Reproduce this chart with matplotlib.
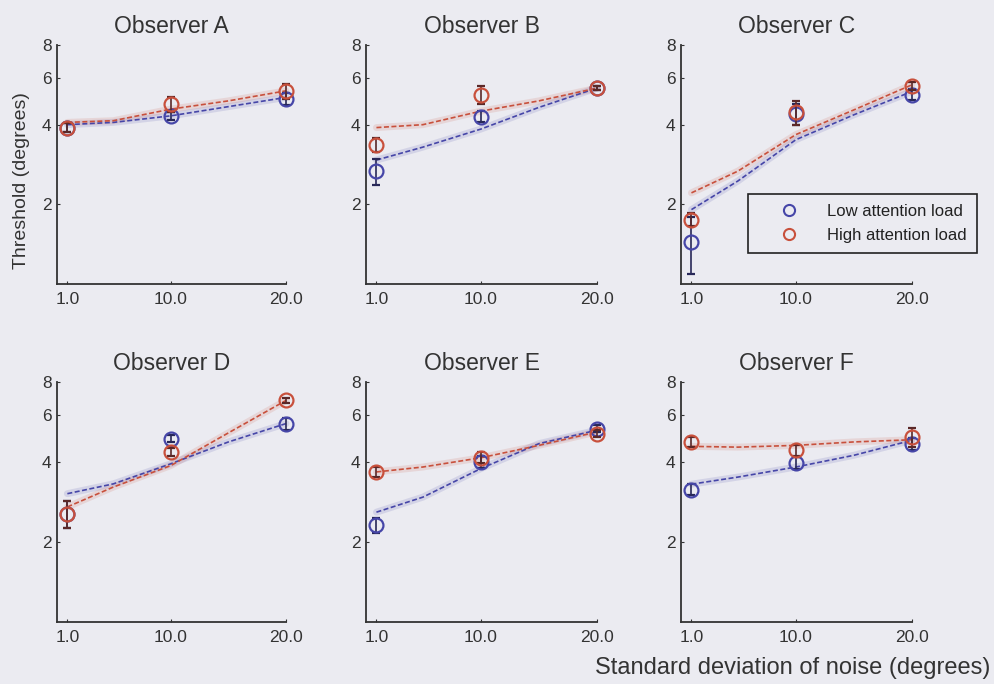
import matplotlib
matplotlib.use("Agg")
import matplotlib.pyplot as plt
from matplotlib.ticker import FixedLocator, FixedFormatter, NullLocator
from matplotlib.lines import Line2D

plt.rcParams['font.family'] = ['Liberation Sans', 'DejaVu Sans']

# ---------------- data ----------------
observers = ['A', 'B', 'C', 'D', 'E', 'F']
noise_sd = [1.0, 10.0, 20.0]
x_tick_labels = ['1.0', '10.0', '20.0']
y_ticks = [2, 4, 6, 8]
series_names = ['Low attention load', 'High attention load']

# measured thresholds (degrees)
low_A = [3.90, 4.32, 5.00]
high_A = [3.90, 4.78, 5.37]
low_B = [2.67, 4.29, 5.50]
high_B = [3.36, 5.19, 5.50]
low_C = [1.44, 4.40, 5.19]
high_C = [1.75, 4.45, 5.60]
low_D = [2.56, 4.90, 5.58]
high_D = [2.56, 4.36, 6.82]
low_E = [2.31, 4.00, 5.34]
high_E = [3.67, 4.15, 5.11]
low_F = [3.15, 3.96, 4.69]
high_F = [4.76, 4.43, 4.97]

# error bars (+/- degrees)
err_low_A = [0.15, 0.15, 0.25]
err_high_A = [0.15, 0.30, 0.35]
err_low_B = [0.30, 0.20, 0.10]
err_high_B = [0.20, 0.40, 0.10]
err_low_C = [0.35, 0.40, 0.25]
err_high_C = [0.10, 0.45, 0.20]
err_low_D = [0.30, 0.15, 0.30]
err_high_D = [0.30, 0.15, 0.15]
err_low_E = [0.15, 0.20, 0.15]
err_high_E = [0.15, 0.20, 0.15]
err_low_F = [0.15, 0.20, 0.25]
err_high_F = [0.20, 0.20, 0.40]

# model fit curves read at these noise levels
fit_x = [1, 5, 10, 15, 20]
fit_low_A = [4.00, 4.08, 4.32, 4.68, 5.07]
fit_high_A = [4.08, 4.14, 4.58, 4.92, 5.37]
fit_low_B = [2.94, 3.29, 3.85, 4.65, 5.50]
fit_high_B = [3.90, 4.00, 4.50, 4.92, 5.50]
fit_low_C = [1.91, 2.45, 3.51, 4.36, 5.34]
fit_high_C = [2.21, 2.67, 3.67, 4.55, 5.66]
fit_low_D = [3.04, 3.31, 3.94, 4.76, 5.58]
fit_high_D = [2.71, 3.22, 3.88, 5.15, 6.82]
fit_low_E = [2.59, 2.95, 3.78, 4.69, 5.27]
fit_high_E = [3.67, 3.83, 4.15, 4.62, 5.19]
fit_low_F = [3.30, 3.51, 3.83, 4.24, 4.83]
fit_high_F = [4.58, 4.55, 4.62, 4.76, 4.85]

panels = {
    'A': (low_A, high_A, err_low_A, err_high_A, fit_low_A, fit_high_A),
    'B': (low_B, high_B, err_low_B, err_high_B, fit_low_B, fit_high_B),
    'C': (low_C, high_C, err_low_C, err_high_C, fit_low_C, fit_high_C),
    'D': (low_D, high_D, err_low_D, err_high_D, fit_low_D, fit_high_D),
    'E': (low_E, high_E, err_low_E, err_high_E, fit_low_E, fit_high_E),
    'F': (low_F, high_F, err_low_F, err_high_F, fit_low_F, fit_high_F),
}

# ---------------- style ----------------
bg = '#ebebf1'
blue = '#4646a8'
red = '#c8503c'
blue_dark = '#282858'
red_dark = '#5a2828'
axis_col = '#333333'
text_col = '#333333'

fig = plt.figure(figsize=(9.94, 6.84), dpi=100, facecolor=bg)

lefts = [57 / 994, 366 / 994, 681 / 994]
widths = [229 / 994, 231 / 994, 231 / 994]
row_bottom = [1 - 284 / 684, 1 - 622 / 684]
row_h = [(284 - 45) / 684, (622 - 382) / 684]

for i, obs in enumerate(observers):
    r, c = divmod(i, 3)
    ax = fig.add_axes([lefts[c], row_bottom[r], widths[c], row_h[r]])
    ax.patch.set_alpha(0)
    low, high, el, eh, fl, fh = panels[obs]

    # fits with soft halo
    for fy, col in ((fl, blue), (fh, red)):
        ax.plot(fit_x, fy, color=col, lw=5, alpha=0.14, solid_capstyle='round',
                zorder=1, clip_on=False)
        ax.plot(fit_x, fy, color=col, lw=1.2, ls=(0, (3, 1.5)), zorder=2, clip_on=False)

    ax.errorbar(noise_sd, low, yerr=el, fmt='o', ms=10, mfc='none', mec=blue, mew=1.6,
                ecolor=blue_dark, elinewidth=1.2, capsize=3, capthick=1.1, zorder=3,
                clip_on=False)
    ax.errorbar(noise_sd, high, yerr=eh, fmt='o', ms=10, mfc='none', mec=red, mew=1.6,
                ecolor=red_dark, elinewidth=1.2, capsize=3, capthick=1.1, zorder=4,
                clip_on=False)

    ax.set_yscale('log')
    ax.set_ylim(1, 8)
    ax.set_xlim(0.1, 20)
    ax.yaxis.set_major_locator(FixedLocator(y_ticks))
    ax.yaxis.set_major_formatter(FixedFormatter([str(t) for t in y_ticks]))
    ax.yaxis.set_minor_locator(NullLocator())
    ax.set_xticks(noise_sd)
    ax.set_xticklabels(x_tick_labels)
    for s in ('top', 'right'):
        ax.spines[s].set_visible(False)
    for s in ('left', 'bottom'):
        ax.spines[s].set_color(axis_col)
        ax.spines[s].set_linewidth(1.3)
    ax.tick_params(axis='both', direction='in', length=2.5, width=0.8,
                   colors=axis_col, labelsize=12.5, labelcolor=text_col)
    ax.tick_params(axis='y', pad=4)
    ax.tick_params(axis='x', pad=6)
    ax.set_title(f'Observer {obs}', fontsize=16.5, color=text_col, pad=9)

fig.text(0.022, 1 - 181 / 684, 'Threshold (degrees)', rotation=90, ha='center',
         va='center', fontsize=14, color=text_col)
fig.text(0.996, 1 - 668 / 684, 'Standard deviation of noise (degrees)', ha='right',
         va='center', fontsize=17, color=text_col)

handles = [
    Line2D([], [], ls='none', marker='o', ms=8, mfc='none', mec=blue, mew=1.5),
    Line2D([], [], ls='none', marker='o', ms=8, mfc='none', mec=red, mew=1.5),
]
leg = fig.legend(handles, series_names, loc='upper right',
                 bbox_to_anchor=(977 / 994, 1 - 194 / 684), fontsize=12,
                 frameon=True, fancybox=False, edgecolor='#222222', facecolor=bg,
                 framealpha=1, handlelength=3.7, handletextpad=0.45,
                 borderpad=0.6, labelspacing=0.55, borderaxespad=0)
leg.get_frame().set_linewidth(1.2)
for t in leg.get_texts():
    t.set_color('#222222')

fig.savefig('out.png', dpi=100, facecolor=bg)
